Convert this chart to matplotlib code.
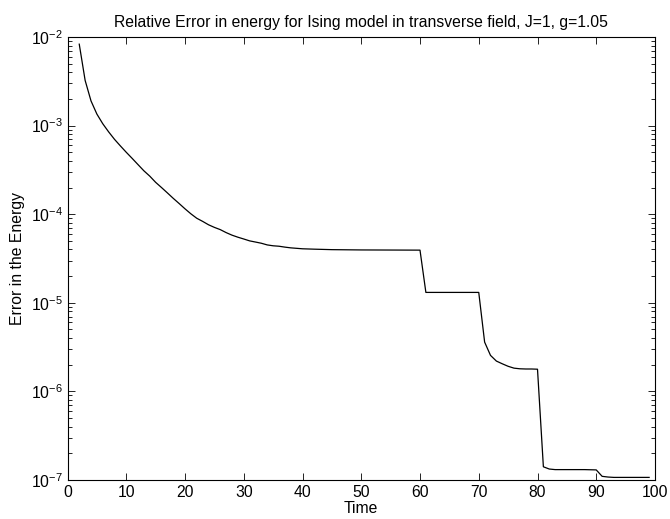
import matplotlib
matplotlib.use("Agg")
import matplotlib.pyplot as plt
from matplotlib.ticker import LogLocator, FixedLocator

plt.rcParams['font.family'] = ['Liberation Sans', 'DejaVu Sans']
plt.rcParams['mathtext.fontset'] = 'custom'
plt.rcParams['mathtext.rm'] = 'Liberation Sans'
plt.rcParams['mathtext.it'] = 'Liberation Sans'

time = [2, 3, 4, 5, 6, 7, 8, 9, 10, 11, 12, 13, 14, 15, 16, 17, 18, 19, 20,
        21, 22, 23, 24, 25, 26, 27, 28, 29, 30, 31, 32, 33, 34, 35, 36, 37, 38,
        40, 42, 45, 50, 55, 60, 61, 65, 70, 71, 72, 73, 74, 75, 76, 77, 78, 79,
        80, 81, 82, 83, 85, 88, 90, 91, 92, 93, 95, 99]
error = [8.3e-3, 3.24e-3, 1.9e-3, 1.35e-3, 1.05e-3, 8.5e-4, 7.0e-4, 5.9e-4,
         5.0e-4, 4.27e-4, 3.63e-4, 3.09e-4, 2.69e-4, 2.29e-4, 2.0e-4, 1.74e-4,
         1.51e-4, 1.32e-4, 1.15e-4, 1.01e-4, 9.0e-5, 8.3e-5, 7.6e-5, 7.1e-5,
         6.7e-5, 6.2e-5, 5.8e-5, 5.5e-5, 5.25e-5, 5.0e-5, 4.85e-5, 4.7e-5,
         4.5e-5, 4.4e-5, 4.35e-5, 4.25e-5, 4.17e-5, 4.07e-5, 4.03e-5, 3.98e-5,
         3.95e-5, 3.94e-5, 3.93e-5, 1.31e-5, 1.31e-5, 1.31e-5, 3.6e-6, 2.55e-6,
         2.2e-6, 2.05e-6, 1.92e-6, 1.83e-6, 1.8e-6, 1.79e-6, 1.79e-6, 1.78e-6,
         1.41e-7, 1.33e-7, 1.31e-7, 1.31e-7, 1.31e-7, 1.3e-7, 1.1e-7, 1.08e-7,
         1.07e-7, 1.07e-7, 1.07e-7]
x_ticks = [0, 10, 20, 30, 40, 50, 60, 70, 80, 90, 100]

fig = plt.figure(figsize=(6.70, 5.19), dpi=100)
ax = fig.add_axes([67.5/670, 1 - 480/519, (655 - 67.5)/670, (480 - 37)/519])
ax.plot(time, error, color='black', lw=0.9)
ax.set_yscale('log')
ax.set_xlim(0, 100)
ax.set_ylim(1e-7, 1e-2)
ax.xaxis.set_major_locator(FixedLocator(x_ticks))
ax.yaxis.set_major_locator(LogLocator(base=10, numticks=10))
ax.yaxis.set_minor_locator(LogLocator(base=10, subs=range(2, 10), numticks=100))
ax.tick_params(which='both', direction='in', top=True, right=True,
               labelsize=11.3, colors='black', width=0.6)
ax.tick_params(which='major', length=5)
ax.tick_params(which='minor', length=3)
for s in ax.spines.values():
    s.set_linewidth(0.8)
ax.set_title('Relative Error in energy for Ising model in transverse field, J=1, g=1.05',
             fontsize=11.3, pad=7)
ax.set_xlabel('Time', fontsize=11.3, labelpad=1)
ax.set_ylabel('Error in the Energy', fontsize=11.3, labelpad=4)
fig.savefig('out.png', dpi=100)
